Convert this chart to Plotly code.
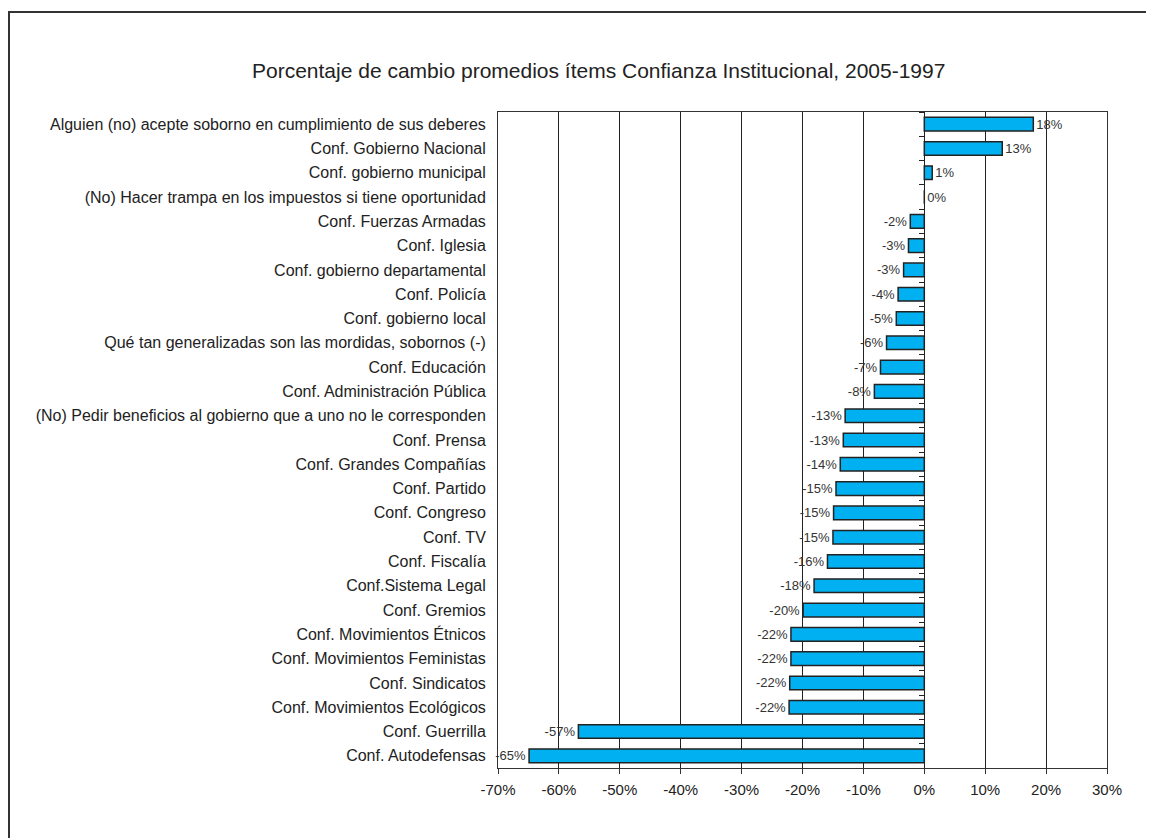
import plotly.graph_objects as go

categories = [
    "Alguien (no) acepte soborno en cumplimiento de sus deberes",
    "Conf. Gobierno Nacional",
    "Conf. gobierno municipal",
    "(No) Hacer trampa en los impuestos si tiene oportunidad",
    "Conf. Fuerzas Armadas",
    "Conf. Iglesia",
    "Conf. gobierno departamental",
    "Conf. Policía",
    "Conf. gobierno local",
    "Qué tan generalizadas son las mordidas, sobornos (-)",
    "Conf. Educación",
    "Conf. Administración Pública",
    "(No) Pedir beneficios al gobierno que a uno no le corresponden",
    "Conf. Prensa",
    "Conf. Grandes Compañías",
    "Conf. Partido",
    "Conf. Congreso",
    "Conf. TV",
    "Conf. Fiscalía",
    "Conf.Sistema Legal",
    "Conf. Gremios",
    "Conf. Movimientos Étnicos",
    "Conf. Movimientos Feministas",
    "Conf. Sindicatos",
    "Conf. Movimientos Ecológicos",
    "Conf. Guerrilla",
    "Conf. Autodefensas",
]
values = [17.9, 12.8, 1.3, 0.0, -2.3, -2.6, -3.4, -4.3, -4.6, -6.2, -7.2, -8.2,
          -13.0, -13.3, -13.8, -14.5, -14.9, -15.0, -15.9, -18.1, -19.9, -21.9,
          -21.9, -22.1, -22.2, -56.8, -64.9]
labels = ["18%", "13%", "1%", "0%", "-2%", "-3%", "-3%", "-4%", "-5%", "-6%", "-7%", "-8%",
          "-13%", "-13%", "-14%", "-15%", "-15%", "-15%", "-16%", "-18%", "-20%", "-22%",
          "-22%", "-22%", "-22%", "-57%", "-65%"]
x_ticks = [-70, -60, -50, -40, -30, -20, -10, 0, 10, 20, 30]
x_tick_text = ["-70%", "-60%", "-50%", "-40%", "-30%", "-20%", "-10%", "0%", "10%", "20%", "30%"]
title = "Porcentaje de cambio promedios ítems Confianza Institucional, 2005-1997"

FONT = "Liberation Sans, Arial, sans-serif"
n = len(categories)

fig = go.Figure()
fig.add_trace(go.Bar(
    x=values, y=categories, orientation="h",
    marker=dict(color="#00B0F0", line=dict(color="#222222", width=1.5)),
    text=labels, textposition="outside", constraintext="none", cliponaxis=False,
    textfont=dict(family=FONT, size=13, color="#333333"),
    hoverinfo="skip", showlegend=False,
))
# helper trace for the category axis drawn at x = 0
fig.add_trace(go.Scatter(
    x=[0] * n, y=categories, yaxis="y2", mode="markers",
    marker=dict(opacity=0), hoverinfo="skip", showlegend=False,
))

# page is offset by the 8px body margin
OFF = 8
W, H = 1154, 838
L = 498 - OFF
T = 112 - OFF
R = W - (1107 - OFF)
B = H - (768 - OFF)
pw, ph = W - L - R, H - T - B

def px(xp):
    return (xp - OFF - L) / pw

def py(yp):
    return (H - B - (yp - OFF)) / ph

fig.update_layout(
    width=W, height=H,
    margin=dict(l=L, r=R, t=T, b=B, pad=0),
    paper_bgcolor="white", plot_bgcolor="white",
    bargap=0.44,
    font=dict(family=FONT, color="#222222"),
    xaxis=dict(
        range=[-70, 30], tickvals=x_ticks, ticktext=x_tick_text,
        showgrid=True, gridcolor="#222222", gridwidth=1,
        zeroline=False, showline=True, linecolor="#333333", linewidth=1, mirror=True,
        ticks="outside", ticklen=5, tickcolor="#333333", ticklabelstandoff=3,
        tickfont=dict(family=FONT, size=15, color="#222222"),
        fixedrange=True,
    ),
    yaxis=dict(
        type="category", categoryorder="array", categoryarray=categories,
        range=[n - 0.5, -0.5],
        showgrid=False, zeroline=False, showline=True, linecolor="#333333", mirror=True,
        ticks="", ticklabelstandoff=8,
        tickfont=dict(family=FONT, size=16, color="#222222"),
        fixedrange=True,
    ),
    yaxis2=dict(
        type="category", categoryorder="array", categoryarray=categories,
        range=[n - 0.5, -0.5], overlaying="y", anchor="free", side="left",
        position=0.7, showticklabels=False, showgrid=False, zeroline=False,
        showline=True, linecolor="#222222", linewidth=1,
        ticks="outside", ticklen=5, tickcolor="#222222", tickson="boundaries",
        fixedrange=True,
    ),
    annotations=[dict(
        text=title, xref="paper", yref="paper", x=px(598), y=py(70),
        xanchor="center", yanchor="middle", showarrow=False,
        font=dict(family=FONT, size=21, color="#222222"),
    )],
    shapes=[dict(
        type="rect", xref="paper", yref="paper",
        x0=px(9), x1=px(1180), y0=py(880), y1=py(12),
        line=dict(color="#333333", width=2), fillcolor="rgba(0,0,0,0)", layer="below",
    )],
)

fig.write_html("out.html")
